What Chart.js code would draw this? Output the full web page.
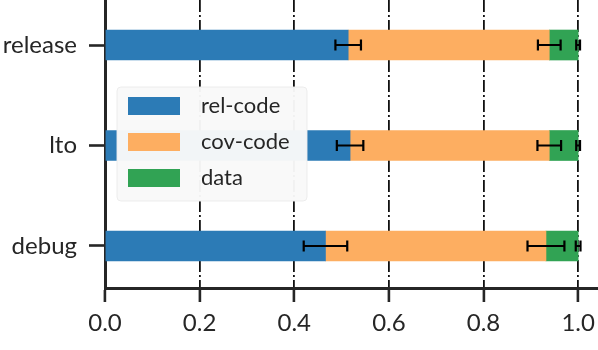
<!DOCTYPE html>
<html>
<head>
<meta charset="utf-8">
<script src="https://cdn.jsdelivr.net/npm/chart.js@4.4.1/dist/chart.umd.min.js"></script>
<style>
  html, body { margin: 0; padding: 0; background: #fff; }
  #wrap { width: 598px; height: 350px; position: relative; }
</style>
</head>
<body>
<div id="wrap"><canvas id="sizeChart"></canvas></div>
<script>
// build kinds (top to bottom)
var builds = ["release", "lto", "debug"];
var seriesNames = ["rel-code", "cov-code", "data"];
var seriesColors = ["#2c7bb6", "#fdae61", "#31a354"];

// share of the binary per part
var relCode = [0.514, 0.518, 0.466];
var covCode = [0.425, 0.421, 0.466];
var dataPart = [0.061, 0.061, 0.068];

// error (half width) at the end of each part
var relCodeErr = [0.027, 0.028, 0.046];
var covCodeErr = [0.024, 0.025, 0.039];
var dataErr = [0.004, 0.004, 0.005];

var xTicks = [0.0, 0.2, 0.4, 0.6, 0.8, 1.0];

var parts = [relCode, covCode, dataPart];
var errs = [relCodeErr, covCodeErr, dataErr];

// floating bars: each part starts where the previous one ended
var starts = builds.map(function () { return 0; });
var datasets = parts.map(function (vals, k) {
    var d = vals.map(function (v, i) {
        var s = starts[i];
        starts[i] = s + v;
        return { x: [s, s + v], y: i };
    });
    return {
        label: seriesNames[k],
        data: d,
        backgroundColor: seriesColors[k],
        borderWidth: 0,
        barThickness: 30,
        grouped: false,
        errs: errs[k]
    };
});

var ink = "#262626";

// error bars at the end of each part
var errorBars = {
    id: "errorBars",
    afterDatasetsDraw: function (chart) {
        var ctx = chart.ctx, xs = chart.scales.x, ys = chart.scales.y;
        ctx.save();
        ctx.strokeStyle = "#000";
        ctx.lineWidth = 2.2;
        chart.data.datasets.forEach(function (ds) {
            ds.data.forEach(function (pt, i) {
                var end = pt.x[1], e = ds.errs[i];
                var x1 = xs.getPixelForValue(end - e), x2 = xs.getPixelForValue(end + e);
                var y = ys.getPixelForValue(pt.y);
                ctx.beginPath();
                ctx.moveTo(x1, y); ctx.lineTo(x2, y);
                ctx.moveTo(x1, y - 5.5); ctx.lineTo(x1, y + 5.5);
                ctx.moveTo(x2, y - 5.5); ctx.lineTo(x2, y + 5.5);
                ctx.stroke();
            });
        });
        ctx.restore();
    }
};

// legend box inside the plot, matplotlib style
var boxLegend = {
    id: "boxLegend",
    afterDraw: function (chart) {
        var ctx = chart.ctx;
        var bx = 117, by = 87, bw = 190, bh = 114;
        ctx.save();
        ctx.fillStyle = "rgba(249,249,249,0.97)";
        ctx.strokeStyle = "rgba(235,235,235,0.9)";
        ctx.lineWidth = 1;
        ctx.beginPath();
        ctx.roundRect(bx, by, bw, bh, 4);
        ctx.fill();
        ctx.stroke();
        ctx.font = "22px Lato";
        ctx.textBaseline = "middle";
        chart.data.datasets.forEach(function (ds, k) {
            var cy = 106 + k * 36;
            ctx.fillStyle = ds.backgroundColor;
            ctx.fillRect(128, cy - 9, 52, 18);
            ctx.fillStyle = ink;
            ctx.fillText(ds.label, 201, cy);
        });
        ctx.restore();
    }
};

var ctx = document.getElementById("sizeChart").getContext("2d");
new Chart(ctx, {
    type: "bar",
    data: { datasets: datasets },
    plugins: [errorBars, boxLegend],
    options: {
        indexAxis: "y",
        responsive: true,
        maintainAspectRatio: false,
        animation: false,
        devicePixelRatio: 1,
        layout: { padding: { top: 0, right: 0, left: 0, bottom: 0 } },
        plugins: {
            legend: { display: false },
            tooltip: { enabled: false }
        },
        scales: {
            x: {
                type: "linear",
                min: 0,
                max: 1.042,
                offset: false,
                afterBuildTicks: function (scale) {
                    scale.ticks = xTicks.map(function (v) { return { value: v }; });
                },
                ticks: {
                    color: ink,
                    font: { family: "Lato", size: 24 },
                    padding: 7,
                    callback: function (v) { return v.toFixed(1); }
                },
                grid: {
                    offset: false,
                    color: "#111",
                    lineWidth: 1.8,
                    drawTicks: true,
                    tickLength: 14,
                    tickWidth: 2.6,
                    tickColor: ink,
                    tickBorderDash: []
                },
                border: { display: true, color: ink, width: 3, dash: [12, 3, 2, 3] },
                afterFit: function (scale) {
                    scale.height = 62;
                    scale.paddingLeft = 0;
                    scale.paddingRight = 0;
                }
            },
            y: {
                type: "linear",
                reverse: true,
                offset: false,
                min: -0.448,
                max: 2.418,
                afterBuildTicks: function (scale) {
                    scale.ticks = builds.map(function (b, i) { return { value: i }; });
                },
                ticks: {
                    color: ink,
                    font: { family: "Lato", size: 24 },
                    padding: 12,
                    callback: function (v) { return builds[v]; }
                },
                grid: {
                    offset: false,
                    display: true,
                    drawOnChartArea: false,
                    drawTicks: true,
                    tickLength: 16,
                    tickWidth: 2.6,
                    tickColor: ink
                },
                border: { display: true, color: ink, width: 3 },
                afterFit: function (scale) {
                    scale.width = 105;
                    scale.paddingTop = 0;
                    scale.paddingBottom = 0;
                }
            }
        }
    }
});
</script>
</body>
</html>
